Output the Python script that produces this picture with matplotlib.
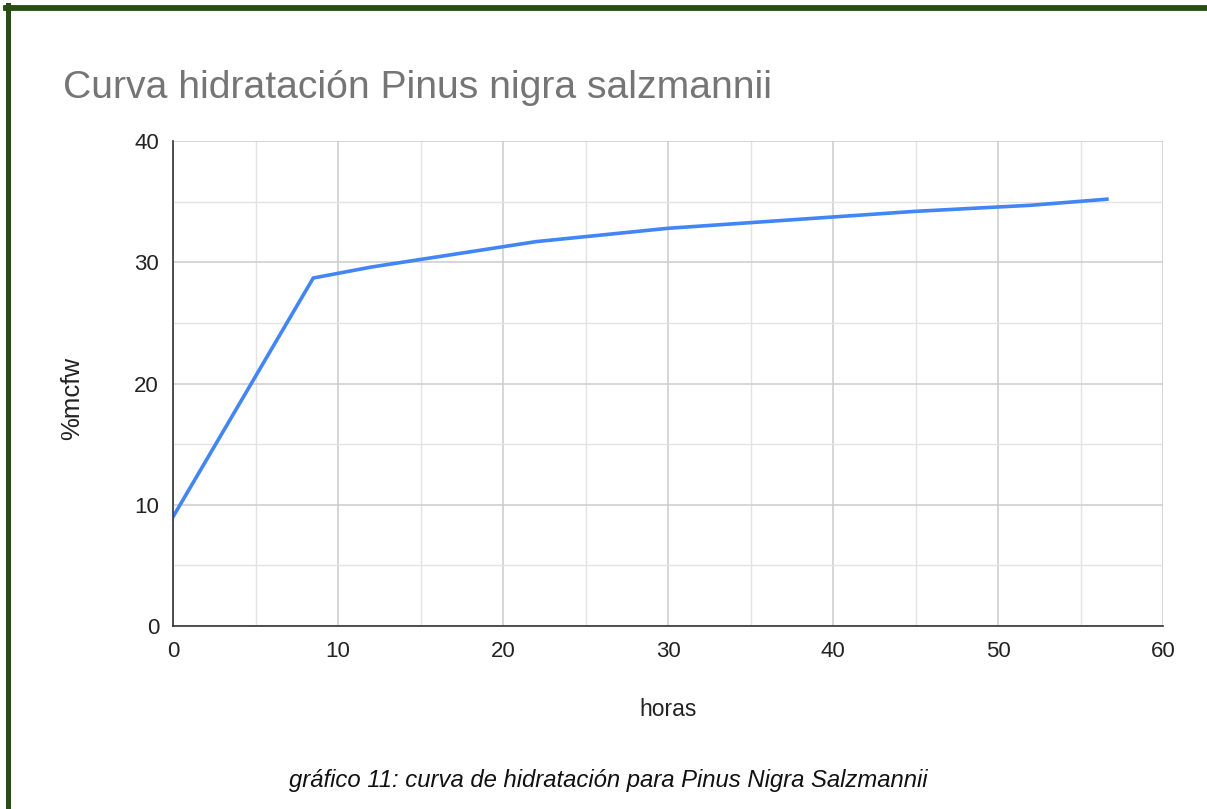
import matplotlib
matplotlib.use("Agg")
import matplotlib.pyplot as plt
from matplotlib.lines import Line2D
from matplotlib.ticker import MultipleLocator

plt.rcParams['font.family'] = ['Liberation Sans', 'DejaVu Sans']

horas = [0, 8.5, 12, 22, 30, 45, 52, 56.6]
mcfw = [9.0, 28.7, 29.6, 31.7, 32.8, 34.2, 34.7, 35.2]

title = "Curva hidratación Pinus nigra salzmannii"
xlabel = "horas"
ylabel = "%mcfw"
caption = "gráfico 11: curva de hidratación para Pinus Nigra Salzmannii"

W, H = 1207, 809
fig = plt.figure(figsize=(W / 100, H / 100), dpi=100)
fig.patch.set_facecolor('white')

ax = fig.add_axes([173 / W, 1 - 626 / H, (1163 - 173) / W, (626 - 141) / H])
ax.plot(horas, mcfw, color='#4285F4', lw=2.6, solid_joinstyle='round', zorder=3)

ax.set_xlim(0, 60)
ax.set_ylim(0, 40)
ax.xaxis.set_major_locator(MultipleLocator(10))
ax.yaxis.set_major_locator(MultipleLocator(10))
ax.xaxis.set_minor_locator(MultipleLocator(5))
ax.yaxis.set_minor_locator(MultipleLocator(5))
ax.grid(which='major', color='#cccccc', lw=1.1)
ax.grid(which='minor', color='#e3e3e3', lw=1.0)
ax.set_axisbelow(True)
ax.tick_params(which='both', length=0)
ax.tick_params(axis='x', pad=11, labelsize=16, colors='#222222')
ax.tick_params(axis='y', pad=10, labelsize=16, colors='#222222')
for s in ['top', 'right']:
    ax.spines[s].set_visible(False)
for s in ['left', 'bottom']:
    ax.spines[s].set_color('#333333')
    ax.spines[s].set_linewidth(1.2)
    ax.spines[s].set_zorder(4)

fig.text(668 / W, 1 - 710 / H, xlabel, ha='center', va='center', fontsize=16.5, color='#222222')
fig.text(72 / W, 1 - 398 / H, ylabel, ha='center', va='center', rotation=90, fontsize=18.5, color='#222222')
fig.text(63 / W, 1 - 98 / H, title, ha='left', va='baseline', fontsize=28.2, color='#757575')
fig.text(608 / W, 1 - 780 / H, caption, ha='center', va='center', fontsize=17.2, style='italic', color='#111111')

green = '#274e13'
fig.add_artist(Line2D([8 / W, 8 / W], [0, 1 - 5 / H], transform=fig.transFigure, color=green, lw=3.6))
fig.add_artist(Line2D([6 / W, 1], [1 - 8 / H, 1 - 8 / H], transform=fig.transFigure, color=green, lw=4.2))

fig.savefig('out.png', dpi=100)
